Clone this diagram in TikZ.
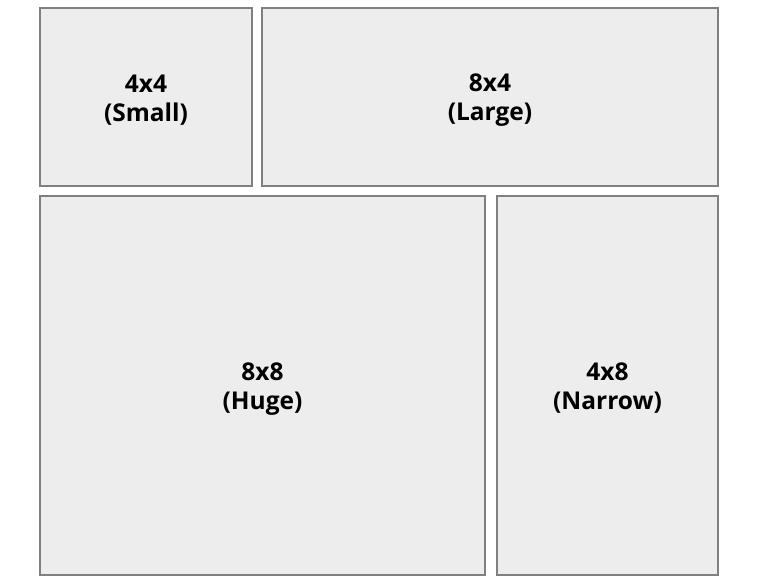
\documentclass[tikz,border=0pt]{standalone}
\usepackage{fontspec}
\setmainfont{Open Sans}
\begin{document}
\begin{tikzpicture}[x=1pt,y=-1pt,
  cell/.style={draw=black!50,fill=black!7,line width=1.2pt},
  lab/.style={font=\fontsize{24.5}{29}\selectfont\bfseries,align=center,text=black}]
\useasboundingbox (0,0) rectangle (764,587);
\draw[cell] (40,8) rectangle (252,186);
\draw[cell] (262,8) rectangle (718,186);
\draw[cell] (40,196) rectangle (485,575);
\draw[cell] (497,196) rectangle (718,575);
\node[lab] (small) at (146,100) {4x4\\(Small)};
\node[lab] (large) at (490,100) {8x4\\(Large)};
\node[lab] (huge) at (262.5,389.5) {8x8\\(Huge)};
\node[lab] (narrow) at (607.5,388) {4x8\\(Narrow)};
\end{tikzpicture}
\end{document}
